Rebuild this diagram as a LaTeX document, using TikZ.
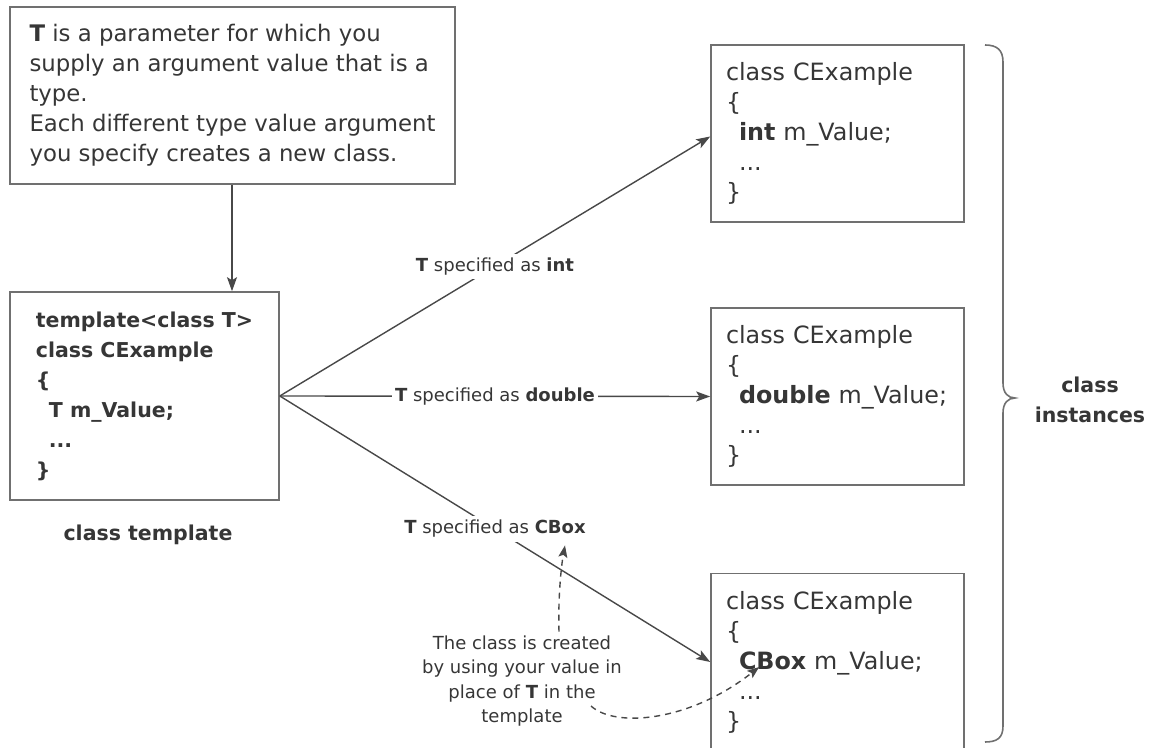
\documentclass[tikz,border=0pt]{standalone}
\usepackage{fontspec}
\setmainfont{DejaVu Sans}
\usetikzlibrary{arrows.meta,calc}
\definecolor{txt}{HTML}{363636}
\definecolor{ln}{HTML}{484848}
\definecolor{bx}{HTML}{707070}
\begin{document}
\begin{tikzpicture}[x=0.5pt,y=-0.5pt,
  every node/.style={text=txt},
  box/.style={draw=bx, line width=0.8pt, inner ysep=0pt},
  codebox/.style={box, align=left, minimum width=126.5pt, minimum height=88.5pt,
    text width=111.5pt, inner xsep=7.5pt, font=\fontsize{11.9pt}{15pt}\selectfont},
  conn/.style={draw=ln, line width=0.7pt, -{Stealth[length=7pt,width=5pt,inset=1.5pt]}},
  dasharrow/.style={draw=ln, line width=0.7pt, dash pattern=on 3pt off 2.5pt,
    -{Stealth[length=6pt,width=4.5pt,inset=1.2pt]}},
  lbl/.style={fill=white, inner xsep=1.5pt, inner ysep=2pt, font=\fontsize{9pt}{11pt}\selectfont},
  boldlbl/.style={font=\bfseries\fontsize{10.25pt}{15pt}\selectfont, align=center}
]
\useasboundingbox (0,0) rectangle (1152,748);

% top explanation box
\node[box, align=left, minimum width=222.5pt, minimum height=88.5pt,
  font=\fontsize{11.4pt}{15pt}\selectfont] (expl) at (232.5,95.5)
  {\textbf{T} is a parameter for which you\\supply an argument value that is a\\type.\\Each different type value argument\\you specify creates a new class.};

% template box
\node[box, align=left, minimum width=134.5pt, minimum height=104pt,
  font=\bfseries\fontsize{10.25pt}{15pt}\selectfont] (tmpl) at (144.5,396)
  {template<class T>\\class CExample\\\{\\\hspace*{6.5pt}T m\_Value;\\\hspace*{6.5pt}...\\\}};
\node[boldlbl] (tlabel) at (148,535) {class template};

% instance boxes
\node[codebox] (box1) at (837.5,133.5)
  {class CExample\\\{\\\hspace*{6.5pt}\textbf{int} m\_Value;\\\hspace*{6.5pt}...\\\}};
\node[codebox] (box2) at (837.5,396.5)
  {class CExample\\\{\\\hspace*{6.5pt}\textbf{double} m\_Value;\\\hspace*{6.5pt}...\\\}};
\node[codebox] (box3) at (837.5,662)
  {class CExample\\\{\\\hspace*{6.5pt}\textbf{CBox} m\_Value;\\\hspace*{6.5pt}...\\\}};

% connectors
\draw[conn] ($(expl.south)+(-0.5,0)$) -- ($(tmpl.north)+(87.5,0)$);
\draw[conn] (tmpl.east) -- node[lbl, pos=0.5] (lblI) {\textbf{T} specified as \textbf{int}} ([yshift=-1.5pt]box1.west);
\draw[conn] (tmpl.east) -- node[lbl, pos=0.5] (lblD) {\textbf{T} specified as \textbf{double}} (box2.west);
\draw[conn] (tmpl.east) -- node[lbl, pos=0.5] (lblC) {\textbf{T} specified as \textbf{CBox}} (box3.west);

% note
\node[align=center, font=\fontsize{9pt}{12.2pt}\selectfont] (note) at (522,681)
  {The class is created\\by using your value in\\place of \textbf{T} in the\\template};
\coordinate (cbtip) at ($(box3.west)+(49,5)$);
\draw[dasharrow] ($(note.north)+(37,3)$) .. controls ($(note.north)+(36,-30)$) and ($(lblC.south)+(66,25)$) .. ($(lblC.south)+(70,3)$);
\draw[dasharrow] ($(note.center)+(69,25)$) .. controls +(24,22) and +(-70,55) .. (cbtip);

% brace
\draw[draw=bx, line width=0.8pt] (985,45) .. controls (997,45) and (1003,50) .. (1003,62)
  -- (1003,383) .. controls (1003,393) and (1008,398) .. (1015,398)
  .. controls (1008,398) and (1003,403) .. (1003,413)
  -- (1003,726) .. controls (1003,738) and (997,742) .. (985,742);
\node[boldlbl] (inst) at (1090,400) {class\\instances};
\end{tikzpicture}
\end{document}
